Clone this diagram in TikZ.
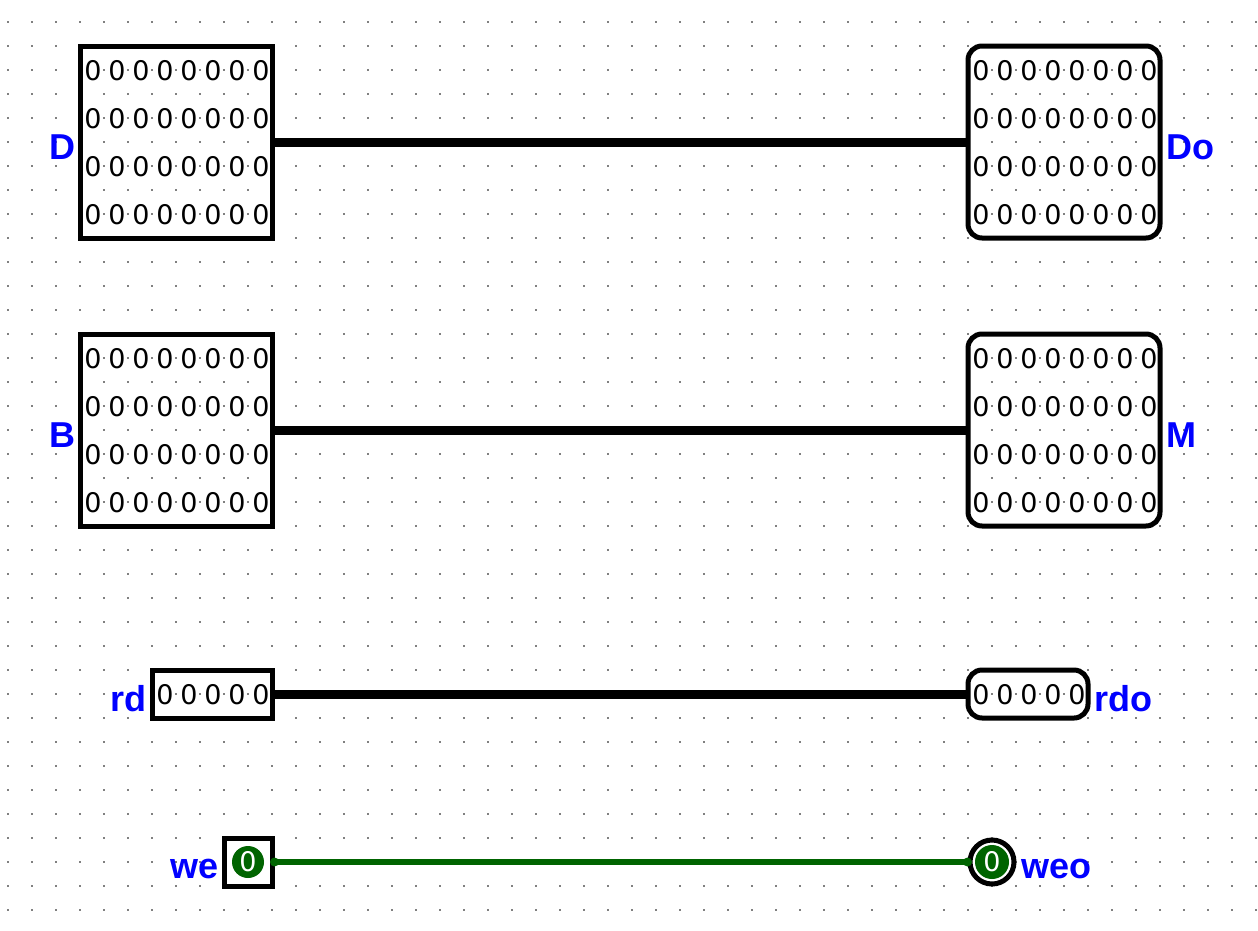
\documentclass[tikz,border=0pt]{standalone}
\usepackage{fontspec}
\setmainfont{Liberation Sans}
\newfontfamily\digitfont{DejaVu Sans}
\newcommand{\dz}{{\digitfont\fontsize{27}{30}\selectfont 0}}
\definecolor{lblue}{RGB}{0,0,255}
\definecolor{lgreen}{RGB}{0,100,0}
\definecolor{griddot}{RGB}{128,128,128}
\begin{document}
\begin{tikzpicture}[x=1pt,y=-1pt,
  inbox/.style={draw=black,line width=5pt,rectangle,inner sep=0pt},
  outbox/.style={draw=black,line width=5pt,rectangle,rounded corners=14pt,inner sep=0pt},
  digit/.style={anchor=base,inner sep=0pt},
  lbl/.style={font=\fontsize{36}{36}\selectfont\bfseries,text=lblue,inner sep=0pt},
  bus/.style={draw=black,line width=9pt},
  bit/.style={draw=lgreen,line width=6.5pt}]
\useasboundingbox (0,0) rectangle (1258,930);
\fill[white] (0,0) rectangle (1258,930);
% grid
\foreach \i in {0,...,52}{
  \foreach \j in {0,...,37}{
    \fill[griddot] ({8+24*\i-1},{22+24*\j-1}) rectangle ++(2,2);
  }
}
% input boxes
\node[inbox,minimum width=192pt,minimum height=192pt] (D) at (176,142) {};
\node[inbox,minimum width=192pt,minimum height=192pt] (B) at (176,430) {};
\node[inbox,minimum width=120pt,minimum height=48pt] (rd) at (212,694) {};
\node[inbox,minimum width=48pt,minimum height=48pt] (we) at (248,862) {};
% output boxes
\node[outbox,minimum width=192pt,minimum height=192pt] (Do) at (1064,142) {};
\node[outbox,minimum width=192pt,minimum height=192pt] (M) at (1064,430) {};
\node[outbox,minimum width=120pt,minimum height=48pt] (rdo) at (1028,694) {};
\node[draw=black,line width=5pt,circle,minimum size=44pt,inner sep=0pt] (weo) at (992,862) {};
% digits
\foreach \rr in {0,...,3}{
  \foreach \kk in {0,...,7}{
    \node[digit] (dD-\rr-\kk) at ({93+24*\kk},{80+48*\rr}) {\dz};
    \node[digit] (dDo-\rr-\kk) at ({981+24*\kk},{80+48*\rr}) {\dz};
    \node[digit] (dB-\rr-\kk) at ({93+24*\kk},{368+48*\rr}) {\dz};
    \node[digit] (dM-\rr-\kk) at ({981+24*\kk},{368+48*\rr}) {\dz};
  }
}
\foreach \kk in {0,...,4}{
  \node[digit] (drd-\kk) at ({165+24*\kk},704) {\dz};
  \node[digit] (drdo-\kk) at ({981+24*\kk},704) {\dz};
}
% single bit values
\node[circle,fill=lgreen,minimum size=32pt,inner sep=0pt,text=white] (weval) at (we.center) {\dz};
\node[circle,fill=lgreen,minimum size=34pt,inner sep=0pt,text=white] (weoval) at (weo.center) {\dz};
% wires
\draw[bus] ([xshift=-4pt]D.east) -- ([xshift=4pt]Do.west);
\draw[bus] ([xshift=-4pt]B.east) -- ([xshift=4pt]M.west);
\draw[bus] ([xshift=-4pt]rd.east) -- ([xshift=4pt]rdo.west);
\draw[bit] (we.east) -- (weo.west);
\fill[lgreen] (we.east) circle (4.5pt);
\fill[lgreen] (weo.west) circle (4.5pt);
% labels
\node[lbl,anchor=base east] (lD) at (76,159) {D};
\node[lbl,anchor=base east] (lB) at (76,447) {B};
\node[lbl,anchor=base east] (lrd) at (147,711) {rd};
\node[lbl,anchor=base east] (lwe) at (219,878) {we};
\node[lbl,anchor=base west] (lDo) at (1166,159) {Do};
\node[lbl,anchor=base west] (lM) at (1166,447) {M};
\node[lbl,anchor=base west] (lrdo) at (1094,711) {rdo};
\node[lbl,anchor=base west] (lweo) at (1021,878) {weo};
\end{tikzpicture}
\end{document}
